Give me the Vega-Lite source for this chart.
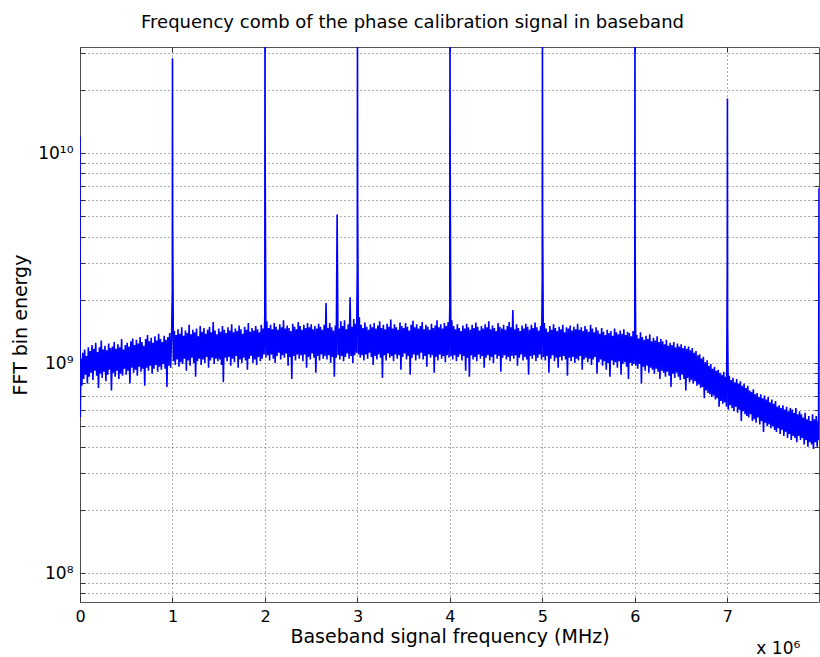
{
"$schema": "https://vega.github.io/schema/vega-lite/v6.json",
"width": 739,
"height": 555,
"autosize": {"type": "none"},
"padding": {"left": 80, "top": 47, "right": 1, "bottom": 55},
"background": "white",
"title": {"text": "Frequency comb of the phase calibration signal in baseband", "font": "DejaVu Sans", "fontSize": 18, "fontWeight": "normal", "color": "black", "offset": 15, "dx": -37},
"config": {
"view": {"stroke": "#555", "strokeWidth": 1},
"axis": {"domain": false, "gridColor": "#333", "gridDash": [1, 3], "gridOpacity": 0.8, "gridWidth": 1, "tickColor": "#333", "tickSize": -5, "labelFont": "DejaVu Sans", "labelFontSize": 16, "labelColor": "black", "labelFlush": false, "titleFont": "DejaVu Sans", "titleFontSize": 19, "titleFontWeight": "normal", "titleColor": "black"}
},
"resolve": {"axis": {"x": "independent", "y": "independent"}},
"layer": [
{
"data": {"values": [
{"f":0,"e":1.2e10},{"f":0.003,"e":5.5e8},{"f":0.01,"e":1.05e9},{"f":0.02,"e":7.8e8},{"f":0.03,"e":1.12e9},{"f":0.04,"e":8.4e8},{"f":0.05,"e":1.16e9},{"f":0.06,"e":8.8e8},{"f":0.07,"e":1.08e9},{"f":0.08,"e":8.0e8},{"f":0.09,"e":1.19e9},
{"f":0.10,"e":8.6e8},{"f":0.11,"e":1.14e9},{"f":0.12,"e":9.0e8},{"f":0.13,"e":1.22e9},{"f":0.14,"e":8.3e8},{"f":0.15,"e":1.17e9},{"f":0.16,"e":9.2e8},{"f":0.17,"e":1.25e9},{"f":0.18,"e":8.7e8},{"f":0.19,"e":1.13e9},
{"f":0.20,"e":7.6e8},{"f":0.21,"e":1.19e9},{"f":0.22,"e":8.9e8},{"f":0.23,"e":1.28e9},{"f":0.24,"e":8.5e8},{"f":0.25,"e":1.16e9},{"f":0.26,"e":9.1e8},{"f":0.27,"e":1.21e9},{"f":0.28,"e":8.2e8},{"f":0.29,"e":1.15e9},
{"f":0.30,"e":8.8e8},{"f":0.31,"e":1.24e9},{"f":0.32,"e":9.3e8},{"f":0.33,"e":1.18e9},{"f":0.34,"e":7.4e8},{"f":0.35,"e":1.2e9},{"f":0.36,"e":9.0e8},{"f":0.37,"e":1.26e9},{"f":0.38,"e":8.6e8},{"f":0.39,"e":1.17e9},
{"f":0.40,"e":9.2e8},{"f":0.41,"e":1.23e9},{"f":0.42,"e":8.4e8},{"f":0.43,"e":1.19e9},{"f":0.44,"e":8.9e8},{"f":0.45,"e":1.3e9},{"f":0.46,"e":8.7e8},{"f":0.47,"e":1.16e9},{"f":0.48,"e":9.4e8},{"f":0.49,"e":1.22e9},
{"f":0.50,"e":8.8e8},{"f":0.51,"e":1.25e9},{"f":0.52,"e":9.2e8},{"f":0.53,"e":1.2e9},{"f":0.54,"e":8.0e8},{"f":0.55,"e":1.27e9},{"f":0.56,"e":9.5e8},{"f":0.57,"e":1.31e9},{"f":0.58,"e":9.0e8},{"f":0.59,"e":1.22e9},
{"f":0.60,"e":9.3e8},{"f":0.61,"e":1.29e9},{"f":0.62,"e":8.7e8},{"f":0.63,"e":1.24e9},{"f":0.64,"e":9.6e8},{"f":0.65,"e":1.33e9},{"f":0.66,"e":9.1e8},{"f":0.67,"e":1.26e9},{"f":0.68,"e":9.4e8},{"f":0.69,"e":1.21e9},
{"f":0.70,"e":7.8e8},{"f":0.71,"e":1.3e9},{"f":0.72,"e":9.5e8},{"f":0.73,"e":1.36e9},{"f":0.74,"e":9.2e8},{"f":0.75,"e":1.27e9},{"f":0.76,"e":9.7e8},{"f":0.77,"e":1.32e9},{"f":0.78,"e":8.9e8},{"f":0.79,"e":1.25e9},
{"f":0.80,"e":9.4e8},{"f":0.81,"e":1.34e9},{"f":0.82,"e":9.8e8},{"f":0.83,"e":1.28e9},{"f":0.84,"e":9.1e8},{"f":0.85,"e":1.38e9},{"f":0.86,"e":9.6e8},{"f":0.87,"e":1.3e9},{"f":0.88,"e":9.3e8},{"f":0.89,"e":1.26e9},
{"f":0.90,"e":9.9e8},{"f":0.91,"e":1.35e9},{"f":0.92,"e":9.4e8},{"f":0.93,"e":1.29e9},{"f":0.94,"e":7.7e8},{"f":0.95,"e":1.33e9},{"f":0.96,"e":9.7e8},{"f":0.97,"e":1.39e9},{"f":0.98,"e":9.5e8},{"f":0.99,"e":1.31e9},
{"f":0.998,"e":2.2e9},{"f":1.0,"e":2.83e10},{"f":1.002,"e":4.6e9},
{"f":1.01,"e":1.02e9},{"f":1.02,"e":1.42e9},{"f":1.03,"e":9.8e8},{"f":1.04,"e":1.36e9},{"f":1.05,"e":1.04e9},{"f":1.06,"e":1.45e9},{"f":1.07,"e":9.6e8},{"f":1.08,"e":1.38e9},{"f":1.09,"e":1.01e9},
{"f":1.10,"e":1.48e9},{"f":1.11,"e":9.9e8},{"f":1.12,"e":1.35e9},{"f":1.13,"e":1.05e9},{"f":1.14,"e":1.43e9},{"f":1.15,"e":9.2e8},{"f":1.16,"e":1.39e9},{"f":1.17,"e":1.03e9},{"f":1.18,"e":1.52e9},{"f":1.19,"e":9.7e8},
{"f":1.20,"e":1.37e9},{"f":1.21,"e":1.06e9},{"f":1.22,"e":1.44e9},{"f":1.23,"e":1.0e9},{"f":1.24,"e":1.4e9},{"f":1.25,"e":8.6e8},{"f":1.26,"e":1.46e9},{"f":1.27,"e":1.02e9},{"f":1.28,"e":1.34e9},{"f":1.29,"e":1.05e9},
{"f":1.30,"e":1.5e9},{"f":1.31,"e":9.8e8},{"f":1.32,"e":1.41e9},{"f":1.33,"e":1.04e9},{"f":1.34,"e":1.47e9},{"f":1.35,"e":1.0e9},{"f":1.36,"e":1.38e9},{"f":1.37,"e":1.07e9},{"f":1.38,"e":1.44e9},{"f":1.39,"e":9.5e8},
{"f":1.40,"e":1.49e9},{"f":1.41,"e":1.03e9},{"f":1.42,"e":1.4e9},{"f":1.43,"e":1.06e9},{"f":1.44,"e":1.57e9},{"f":1.45,"e":9.9e8},{"f":1.46,"e":1.43e9},{"f":1.47,"e":1.05e9},{"f":1.48,"e":1.37e9},{"f":1.49,"e":1.02e9},
{"f":1.50,"e":1.46e9},{"f":1.51,"e":1.04e9},{"f":1.52,"e":1.41e9},{"f":1.53,"e":9.8e8},{"f":1.54,"e":1.5e9},{"f":1.55,"e":8.1e8},{"f":1.56,"e":1.44e9},{"f":1.57,"e":1.06e9},{"f":1.58,"e":1.39e9},{"f":1.59,"e":1.02e9},
{"f":1.60,"e":1.48e9},{"f":1.61,"e":1.07e9},{"f":1.62,"e":1.43e9},{"f":1.63,"e":9.7e8},{"f":1.64,"e":1.53e9},{"f":1.65,"e":1.05e9},{"f":1.66,"e":1.4e9},{"f":1.67,"e":1.01e9},{"f":1.68,"e":1.46e9},{"f":1.69,"e":1.08e9},
{"f":1.70,"e":1.42e9},{"f":1.71,"e":9.5e8},{"f":1.72,"e":1.51e9},{"f":1.73,"e":1.04e9},{"f":1.74,"e":1.45e9},{"f":1.75,"e":1.0e9},{"f":1.76,"e":1.38e9},{"f":1.77,"e":1.06e9},{"f":1.78,"e":1.49e9},{"f":1.79,"e":1.03e9},
{"f":1.80,"e":1.44e9},{"f":1.81,"e":9.3e8},{"f":1.82,"e":1.55e9},{"f":1.83,"e":1.05e9},{"f":1.84,"e":1.41e9},{"f":1.85,"e":1.08e9},{"f":1.86,"e":1.47e9},{"f":1.87,"e":1.0e9},{"f":1.88,"e":1.43e9},{"f":1.89,"e":1.04e9},
{"f":1.90,"e":1.5e9},{"f":1.91,"e":9.8e8},{"f":1.92,"e":1.45e9},{"f":1.93,"e":1.07e9},{"f":1.94,"e":1.4e9},{"f":1.95,"e":1.02e9},{"f":1.96,"e":1.52e9},{"f":1.97,"e":1.05e9},{"f":1.98,"e":1.46e9},{"f":1.99,"e":1.1e9},
{"f":1.998,"e":1.7e9},{"f":2.0,"e":5e10},{"f":2.002,"e":1.01e10},
{"f":2.01,"e":1.06e9},{"f":2.02,"e":1.58e9},{"f":2.03,"e":1.09e9},{"f":2.04,"e":1.47e9},{"f":2.05,"e":1.03e9},{"f":2.06,"e":1.52e9},{"f":2.07,"e":1.1e9},{"f":2.08,"e":1.45e9},{"f":2.09,"e":1.05e9},
{"f":2.10,"e":1.55e9},{"f":2.11,"e":1.0e9},{"f":2.12,"e":1.49e9},{"f":2.13,"e":1.08e9},{"f":2.14,"e":1.44e9},{"f":2.15,"e":1.12e9},{"f":2.16,"e":1.53e9},{"f":2.17,"e":1.04e9},{"f":2.18,"e":1.48e9},{"f":2.19,"e":1.09e9},
{"f":2.20,"e":1.6e9},{"f":2.21,"e":1.06e9},{"f":2.22,"e":1.46e9},{"f":2.23,"e":1.11e9},{"f":2.24,"e":1.51e9},{"f":2.25,"e":9.7e8},{"f":2.26,"e":1.47e9},{"f":2.27,"e":1.07e9},{"f":2.28,"e":1.42e9},{"f":2.29,"e":8.4e8},
{"f":2.30,"e":1.54e9},{"f":2.31,"e":1.08e9},{"f":2.32,"e":1.49e9},{"f":2.33,"e":1.03e9},{"f":2.34,"e":1.45e9},{"f":2.35,"e":1.1e9},{"f":2.36,"e":1.57e9},{"f":2.37,"e":1.05e9},{"f":2.38,"e":1.5e9},{"f":2.39,"e":1.09e9},
{"f":2.40,"e":1.44e9},{"f":2.41,"e":1.02e9},{"f":2.42,"e":1.52e9},{"f":2.43,"e":1.1e9},{"f":2.44,"e":1.47e9},{"f":2.45,"e":9.5e8},{"f":2.46,"e":1.55e9},{"f":2.47,"e":1.07e9},{"f":2.48,"e":1.48e9},{"f":2.49,"e":1.04e9},
{"f":2.50,"e":1.53e9},{"f":2.51,"e":1.11e9},{"f":2.52,"e":1.45e9},{"f":2.53,"e":1.06e9},{"f":2.54,"e":1.5e9},{"f":2.55,"e":9.0e8},{"f":2.56,"e":1.46e9},{"f":2.57,"e":1.08e9},{"f":2.58,"e":1.54e9},{"f":2.59,"e":1.03e9},
{"f":2.60,"e":1.49e9},{"f":2.61,"e":1.1e9},{"f":2.62,"e":1.44e9},{"f":2.63,"e":1.05e9},{"f":2.64,"e":1.52e9},{"f":2.65,"e":1.08e9},{"f":2.66,"e":1.93e9},{"f":2.67,"e":1.04e9},{"f":2.68,"e":1.47e9},{"f":2.69,"e":1.09e9},
{"f":2.70,"e":1.55e9},{"f":2.71,"e":1.0e9},{"f":2.72,"e":1.48e9},{"f":2.73,"e":1.07e9},{"f":2.74,"e":1.43e9},{"f":2.75,"e":8.6e8},{"f":2.76,"e":1.51e9},{"f":2.77,"e":1.06e9},{"f":2.78,"e":5.1e9},{"f":2.79,"e":1.09e9},
{"f":2.80,"e":1.46e9},{"f":2.81,"e":1.04e9},{"f":2.82,"e":1.58e9},{"f":2.83,"e":1.08e9},{"f":2.84,"e":1.5e9},{"f":2.85,"e":1.02e9},{"f":2.86,"e":1.6e9},{"f":2.87,"e":1.07e9},{"f":2.88,"e":1.45e9},{"f":2.89,"e":1.11e9},
{"f":2.90,"e":1.53e9},{"f":2.91,"e":1.05e9},{"f":2.92,"e":2.06e9},{"f":2.93,"e":1.08e9},{"f":2.94,"e":1.49e9},{"f":2.95,"e":1.0e9},{"f":2.96,"e":1.62e9},{"f":2.97,"e":1.09e9},{"f":2.98,"e":1.54e9},{"f":2.99,"e":1.12e9},
{"f":2.998,"e":2.86e9},{"f":3.0,"e":5e10},{"f":3.002,"e":5.78e9},
{"f":3.01,"e":1.1e9},{"f":3.02,"e":1.65e9},{"f":3.03,"e":1.06e9},{"f":3.04,"e":1.52e9},{"f":3.05,"e":1.09e9},{"f":3.06,"e":1.47e9},{"f":3.07,"e":1.03e9},{"f":3.08,"e":1.56e9},{"f":3.09,"e":1.1e9},
{"f":3.10,"e":1.49e9},{"f":3.11,"e":1.05e9},{"f":3.12,"e":1.44e9},{"f":3.13,"e":1.12e9},{"f":3.14,"e":1.53e9},{"f":3.15,"e":1.07e9},{"f":3.16,"e":1.48e9},{"f":3.17,"e":9.8e8},{"f":3.18,"e":1.55e9},{"f":3.19,"e":1.08e9},
{"f":3.20,"e":1.46e9},{"f":3.21,"e":1.04e9},{"f":3.22,"e":1.51e9},{"f":3.23,"e":1.1e9},{"f":3.24,"e":1.58e9},{"f":3.25,"e":1.06e9},{"f":3.26,"e":1.47e9},{"f":3.27,"e":8.5e8},{"f":3.28,"e":1.52e9},{"f":3.29,"e":1.09e9},
{"f":3.30,"e":1.45e9},{"f":3.31,"e":1.03e9},{"f":3.32,"e":1.54e9},{"f":3.33,"e":1.11e9},{"f":3.34,"e":1.49e9},{"f":3.35,"e":1.06e9},{"f":3.36,"e":1.61e9},{"f":3.37,"e":1.08e9},{"f":3.38,"e":1.46e9},{"f":3.39,"e":1.02e9},
{"f":3.40,"e":1.53e9},{"f":3.41,"e":1.1e9},{"f":3.42,"e":1.48e9},{"f":3.43,"e":1.05e9},{"f":3.44,"e":1.44e9},{"f":3.45,"e":1.09e9},{"f":3.46,"e":1.56e9},{"f":3.47,"e":9.3e8},{"f":3.48,"e":1.5e9},{"f":3.49,"e":1.07e9},
{"f":3.50,"e":1.47e9},{"f":3.51,"e":1.11e9},{"f":3.52,"e":1.55e9},{"f":3.53,"e":1.04e9},{"f":3.54,"e":1.49e9},{"f":3.55,"e":1.08e9},{"f":3.56,"e":1.43e9},{"f":3.57,"e":8.8e8},{"f":3.58,"e":1.52e9},{"f":3.59,"e":1.06e9},
{"f":3.60,"e":1.59e9},{"f":3.61,"e":1.1e9},{"f":3.62,"e":1.48e9},{"f":3.63,"e":1.03e9},{"f":3.64,"e":1.53e9},{"f":3.65,"e":1.09e9},{"f":3.66,"e":1.46e9},{"f":3.67,"e":1.05e9},{"f":3.68,"e":1.5e9},{"f":3.69,"e":1.12e9},
{"f":3.70,"e":1.57e9},{"f":3.71,"e":1.04e9},{"f":3.72,"e":1.45e9},{"f":3.73,"e":1.08e9},{"f":3.74,"e":1.52e9},{"f":3.75,"e":9.6e8},{"f":3.76,"e":1.49e9},{"f":3.77,"e":1.1e9},{"f":3.78,"e":1.44e9},{"f":3.79,"e":1.06e9},
{"f":3.80,"e":1.54e9},{"f":3.81,"e":1.09e9},{"f":3.82,"e":1.47e9},{"f":3.83,"e":9.0e8},{"f":3.84,"e":1.51e9},{"f":3.85,"e":1.07e9},{"f":3.86,"e":1.6e9},{"f":3.87,"e":1.03e9},{"f":3.88,"e":1.48e9},{"f":3.89,"e":1.1e9},
{"f":3.90,"e":1.53e9},{"f":3.91,"e":1.05e9},{"f":3.92,"e":1.46e9},{"f":3.93,"e":1.08e9},{"f":3.94,"e":1.55e9},{"f":3.95,"e":1.01e9},{"f":3.96,"e":1.5e9},{"f":3.97,"e":1.09e9},{"f":3.98,"e":1.57e9},{"f":3.99,"e":1.06e9},
{"f":3.998,"e":1.85e9},{"f":4.0,"e":5e10},{"f":4.002,"e":1.0e10},
{"f":4.01,"e":1.08e9},{"f":4.02,"e":1.6e9},{"f":4.03,"e":1.04e9},{"f":4.04,"e":1.5e9},{"f":4.05,"e":1.09e9},{"f":4.06,"e":1.45e9},{"f":4.07,"e":1.02e9},{"f":4.08,"e":1.53e9},{"f":4.09,"e":1.07e9},
{"f":4.10,"e":1.47e9},{"f":4.11,"e":1.1e9},{"f":4.12,"e":1.42e9},{"f":4.13,"e":1.03e9},{"f":4.14,"e":1.51e9},{"f":4.15,"e":1.08e9},{"f":4.16,"e":1.46e9},{"f":4.17,"e":9.2e8},{"f":4.18,"e":1.54e9},{"f":4.19,"e":1.06e9},
{"f":4.20,"e":1.48e9},{"f":4.21,"e":8.6e8},{"f":4.22,"e":1.44e9},{"f":4.23,"e":1.09e9},{"f":4.24,"e":1.52e9},{"f":4.25,"e":1.04e9},{"f":4.26,"e":1.47e9},{"f":4.27,"e":1.07e9},{"f":4.28,"e":1.56e9},{"f":4.29,"e":1.02e9},
{"f":4.30,"e":1.49e9},{"f":4.31,"e":1.1e9},{"f":4.32,"e":1.43e9},{"f":4.33,"e":1.05e9},{"f":4.34,"e":1.5e9},{"f":4.35,"e":1.08e9},{"f":4.36,"e":1.46e9},{"f":4.37,"e":9.5e8},{"f":4.38,"e":1.53e9},{"f":4.39,"e":1.06e9},
{"f":4.40,"e":1.48e9},{"f":4.41,"e":1.09e9},{"f":4.42,"e":1.58e9},{"f":4.43,"e":1.03e9},{"f":4.44,"e":1.45e9},{"f":4.45,"e":1.07e9},{"f":4.46,"e":1.51e9},{"f":4.47,"e":1.0e9},{"f":4.48,"e":1.47e9},{"f":4.49,"e":1.1e9},
{"f":4.50,"e":1.42e9},{"f":4.51,"e":1.05e9},{"f":4.52,"e":1.55e9},{"f":4.53,"e":1.08e9},{"f":4.54,"e":1.49e9},{"f":4.55,"e":9.1e8},{"f":4.56,"e":1.46e9},{"f":4.57,"e":1.06e9},{"f":4.58,"e":1.52e9},{"f":4.59,"e":1.09e9},
{"f":4.60,"e":1.44e9},{"f":4.61,"e":1.04e9},{"f":4.62,"e":1.5e9},{"f":4.63,"e":1.07e9},{"f":4.64,"e":1.57e9},{"f":4.65,"e":1.02e9},{"f":4.66,"e":1.48e9},{"f":4.67,"e":1.08e9},{"f":4.68,"e":1.79e9},{"f":4.69,"e":1.05e9},
{"f":4.70,"e":1.45e9},{"f":4.71,"e":1.09e9},{"f":4.72,"e":1.53e9},{"f":4.73,"e":9.7e8},{"f":4.74,"e":1.47e9},{"f":4.75,"e":1.06e9},{"f":4.76,"e":1.42e9},{"f":4.77,"e":1.1e9},{"f":4.78,"e":1.51e9},{"f":4.79,"e":1.03e9},
{"f":4.80,"e":1.46e9},{"f":4.81,"e":1.07e9},{"f":4.82,"e":1.54e9},{"f":4.83,"e":1.04e9},{"f":4.84,"e":1.49e9},{"f":4.85,"e":8.8e8},{"f":4.86,"e":1.44e9},{"f":4.87,"e":1.08e9},{"f":4.88,"e":1.52e9},{"f":4.89,"e":1.05e9},
{"f":4.90,"e":1.47e9},{"f":4.91,"e":1.09e9},{"f":4.92,"e":1.56e9},{"f":4.93,"e":1.02e9},{"f":4.94,"e":1.48e9},{"f":4.95,"e":1.06e9},{"f":4.96,"e":1.43e9},{"f":4.97,"e":1.1e9},{"f":4.98,"e":1.5e9},{"f":4.99,"e":1.04e9},
{"f":4.998,"e":2.54e9},{"f":5.0,"e":5e10},{"f":5.002,"e":4.8e9},
{"f":5.01,"e":1.07e9},{"f":5.02,"e":1.55e9},{"f":5.03,"e":1.03e9},{"f":5.04,"e":1.46e9},{"f":5.05,"e":1.08e9},{"f":5.06,"e":1.41e9},{"f":5.07,"e":9.0e8},{"f":5.08,"e":1.5e9},{"f":5.09,"e":1.05e9},
{"f":5.10,"e":1.44e9},{"f":5.11,"e":1.09e9},{"f":5.12,"e":1.53e9},{"f":5.13,"e":1.02e9},{"f":5.14,"e":1.47e9},{"f":5.15,"e":1.06e9},{"f":5.16,"e":1.42e9},{"f":5.17,"e":9.5e8},{"f":5.18,"e":1.49e9},{"f":5.19,"e":1.07e9},
{"f":5.20,"e":1.45e9},{"f":5.21,"e":1.03e9},{"f":5.22,"e":1.52e9},{"f":5.23,"e":1.08e9},{"f":5.24,"e":1.4e9},{"f":5.25,"e":1.04e9},{"f":5.26,"e":1.48e9},{"f":5.27,"e":8.7e8},{"f":5.28,"e":1.46e9},{"f":5.29,"e":1.06e9},
{"f":5.30,"e":1.51e9},{"f":5.31,"e":1.02e9},{"f":5.32,"e":1.43e9},{"f":5.33,"e":1.07e9},{"f":5.34,"e":1.49e9},{"f":5.35,"e":1.0e9},{"f":5.36,"e":1.45e9},{"f":5.37,"e":1.05e9},{"f":5.38,"e":1.54e9},{"f":5.39,"e":1.03e9},
{"f":5.40,"e":1.44e9},{"f":5.41,"e":1.08e9},{"f":5.42,"e":1.48e9},{"f":5.43,"e":9.3e8},{"f":5.44,"e":1.42e9},{"f":5.45,"e":1.04e9},{"f":5.46,"e":1.5e9},{"f":5.47,"e":1.06e9},{"f":5.48,"e":1.45e9},{"f":5.49,"e":1.01e9},
{"f":5.50,"e":1.41e9},{"f":5.51,"e":1.05e9},{"f":5.52,"e":1.52e9},{"f":5.53,"e":9.8e8},{"f":5.54,"e":1.46e9},{"f":5.55,"e":1.04e9},{"f":5.56,"e":1.4e9},{"f":5.57,"e":1.07e9},{"f":5.58,"e":1.48e9},{"f":5.59,"e":8.9e8},
{"f":5.60,"e":1.43e9},{"f":5.61,"e":1.01e9},{"f":5.62,"e":1.38e9},{"f":5.63,"e":1.04e9},{"f":5.64,"e":1.47e9},{"f":5.65,"e":9.7e8},{"f":5.66,"e":1.41e9},{"f":5.67,"e":1.02e9},{"f":5.68,"e":1.36e9},{"f":5.69,"e":9.3e8},
{"f":5.70,"e":1.44e9},{"f":5.71,"e":1.0e9},{"f":5.72,"e":1.39e9},{"f":5.73,"e":8.6e8},{"f":5.74,"e":1.42e9},{"f":5.75,"e":1.03e9},{"f":5.76,"e":1.35e9},{"f":5.77,"e":9.8e8},{"f":5.78,"e":1.46e9},{"f":5.79,"e":1.01e9},
{"f":5.80,"e":1.4e9},{"f":5.81,"e":9.5e8},{"f":5.82,"e":1.37e9},{"f":5.83,"e":1.02e9},{"f":5.84,"e":1.43e9},{"f":5.85,"e":8.8e8},{"f":5.86,"e":1.38e9},{"f":5.87,"e":9.9e8},{"f":5.88,"e":1.45e9},{"f":5.89,"e":1.01e9},
{"f":5.90,"e":1.36e9},{"f":5.91,"e":9.6e8},{"f":5.92,"e":1.41e9},{"f":5.93,"e":8.4e8},{"f":5.94,"e":1.39e9},{"f":5.95,"e":1.0e9},{"f":5.96,"e":1.34e9},{"f":5.97,"e":9.7e8},{"f":5.98,"e":1.42e9},{"f":5.99,"e":9.9e8},
{"f":5.998,"e":1.3e9},{"f":6.0,"e":5e10},{"f":6.002,"e":3.45e9},
{"f":6.01,"e":9.7e8},{"f":6.02,"e":1.36e9},{"f":6.03,"e":9.4e8},{"f":6.04,"e":1.31e9},{"f":6.05,"e":9.9e8},{"f":6.06,"e":1.4e9},{"f":6.07,"e":8.0e8},{"f":6.08,"e":1.33e9},{"f":6.09,"e":9.6e8},
{"f":6.10,"e":1.29e9},{"f":6.11,"e":9.2e8},{"f":6.12,"e":1.35e9},{"f":6.13,"e":9.7e8},{"f":6.14,"e":1.3e9},{"f":6.15,"e":9.0e8},{"f":6.16,"e":1.37e9},{"f":6.17,"e":9.5e8},{"f":6.18,"e":1.27e9},{"f":6.19,"e":9.3e8},
{"f":6.20,"e":1.32e9},{"f":6.21,"e":8.9e8},{"f":6.22,"e":1.28e9},{"f":6.23,"e":9.4e8},{"f":6.24,"e":1.34e9},{"f":6.25,"e":9.1e8},{"f":6.26,"e":1.26e9},{"f":6.27,"e":8.4e8},{"f":6.28,"e":1.3e9},{"f":6.29,"e":9.2e8},
{"f":6.30,"e":1.27e9},{"f":6.31,"e":9.0e8},{"f":6.32,"e":1.23e9},{"f":6.33,"e":8.6e8},{"f":6.34,"e":1.29e9},{"f":6.35,"e":9.1e8},{"f":6.36,"e":1.21e9},{"f":6.37,"e":8.7e8},{"f":6.38,"e":1.25e9},{"f":6.39,"e":7.7e8},
{"f":6.40,"e":1.22e9},{"f":6.41,"e":8.9e8},{"f":6.42,"e":1.26e9},{"f":6.43,"e":8.5e8},{"f":6.44,"e":1.19e9},{"f":6.45,"e":9.0e8},{"f":6.46,"e":1.24e9},{"f":6.47,"e":8.6e8},{"f":6.48,"e":1.2e9},{"f":6.49,"e":8.3e8},
{"f":6.50,"e":1.23e9},{"f":6.51,"e":8.8e8},{"f":6.52,"e":1.18e9},{"f":6.53,"e":8.4e8},{"f":6.54,"e":1.21e9},{"f":6.55,"e":7.4e8},{"f":6.56,"e":1.17e9},{"f":6.57,"e":8.5e8},{"f":6.58,"e":1.2e9},{"f":6.59,"e":8.1e8},
{"f":6.60,"e":1.15e9},{"f":6.61,"e":8.3e8},{"f":6.62,"e":1.18e9},{"f":6.63,"e":8.0e8},{"f":6.64,"e":1.12e9},{"f":6.65,"e":8.2e8},{"f":6.66,"e":1.14e9},{"f":6.67,"e":7.8e8},{"f":6.68,"e":1.09e9},{"f":6.69,"e":7.9e8},
{"f":6.70,"e":1.1e9},{"f":6.71,"e":7.6e8},{"f":6.72,"e":1.05e9},{"f":6.73,"e":7.7e8},{"f":6.74,"e":1.07e9},{"f":6.75,"e":6.8e8},{"f":6.76,"e":1.01e9},{"f":6.77,"e":7.4e8},{"f":6.78,"e":1.03e9},{"f":6.79,"e":7.2e8},
{"f":6.80,"e":9.7e8},{"f":6.81,"e":7.1e8},{"f":6.82,"e":9.9e8},{"f":6.83,"e":6.9e8},{"f":6.84,"e":9.4e8},{"f":6.85,"e":7.0e8},{"f":6.86,"e":9.6e8},{"f":6.87,"e":6.7e8},{"f":6.88,"e":9.2e8},{"f":6.89,"e":6.8e8},
{"f":6.90,"e":9.3e8},{"f":6.91,"e":6.2e8},{"f":6.92,"e":9.0e8},{"f":6.93,"e":6.6e8},{"f":6.94,"e":8.8e8},{"f":6.95,"e":6.4e8},{"f":6.96,"e":9.1e8},{"f":6.97,"e":6.5e8},{"f":6.98,"e":8.6e8},{"f":6.99,"e":6.2e8},
{"f":6.995,"e":1.57e9},{"f":6.998,"e":3.0e9},{"f":7.0,"e":1.82e10},{"f":7.002,"e":1.5e9},
{"f":7.01,"e":6.0e8},{"f":7.02,"e":8.7e8},{"f":7.03,"e":6.3e8},{"f":7.04,"e":8.3e8},{"f":7.05,"e":6.1e8},{"f":7.06,"e":8.5e8},{"f":7.07,"e":5.9e8},{"f":7.08,"e":8.1e8},{"f":7.09,"e":6.2e8},
{"f":7.10,"e":8.4e8},{"f":7.11,"e":5.8e8},{"f":7.12,"e":8.0e8},{"f":7.13,"e":6.0e8},{"f":7.14,"e":8.2e8},{"f":7.15,"e":5.3e8},{"f":7.16,"e":7.8e8},{"f":7.17,"e":5.9e8},{"f":7.18,"e":8.0e8},{"f":7.19,"e":5.7e8},
{"f":7.20,"e":7.6e8},{"f":7.21,"e":5.6e8},{"f":7.22,"e":7.8e8},{"f":7.23,"e":5.5e8},{"f":7.24,"e":7.4e8},{"f":7.25,"e":5.7e8},{"f":7.26,"e":7.3e8},{"f":7.27,"e":5.3e8},{"f":7.28,"e":7.5e8},{"f":7.29,"e":5.4e8},
{"f":7.30,"e":7.1e8},{"f":7.31,"e":5.2e8},{"f":7.32,"e":7.2e8},{"f":7.33,"e":5.5e8},{"f":7.34,"e":6.9e8},{"f":7.35,"e":5.1e8},{"f":7.36,"e":7.1e8},{"f":7.37,"e":5.3e8},{"f":7.38,"e":6.8e8},{"f":7.39,"e":4.7e8},
{"f":7.40,"e":7.0e8},{"f":7.41,"e":5.2e8},{"f":7.42,"e":6.7e8},{"f":7.43,"e":5.0e8},{"f":7.44,"e":6.9e8},{"f":7.45,"e":5.1e8},{"f":7.46,"e":6.5e8},{"f":7.47,"e":4.9e8},{"f":7.48,"e":6.7e8},{"f":7.49,"e":5.0e8},
{"f":7.50,"e":6.4e8},{"f":7.51,"e":4.8e8},{"f":7.52,"e":6.6e8},{"f":7.53,"e":4.7e8},{"f":7.54,"e":6.2e8},{"f":7.55,"e":4.9e8},{"f":7.56,"e":6.3e8},{"f":7.57,"e":4.6e8},{"f":7.58,"e":6.1e8},{"f":7.59,"e":4.8e8},
{"f":7.60,"e":6.3e8},{"f":7.61,"e":4.5e8},{"f":7.62,"e":6.0e8},{"f":7.63,"e":4.7e8},{"f":7.64,"e":6.2e8},{"f":7.65,"e":4.4e8},{"f":7.66,"e":5.9e8},{"f":7.67,"e":4.6e8},{"f":7.68,"e":6.1e8},{"f":7.69,"e":4.3e8},
{"f":7.70,"e":6.0e8},{"f":7.71,"e":4.5e8},{"f":7.72,"e":5.8e8},{"f":7.73,"e":4.4e8},{"f":7.74,"e":6.1e8},{"f":7.75,"e":4.2e8},{"f":7.76,"e":5.7e8},{"f":7.77,"e":4.5e8},{"f":7.78,"e":5.9e8},{"f":7.79,"e":4.3e8},
{"f":7.80,"e":5.7e8},{"f":7.81,"e":4.4e8},{"f":7.82,"e":5.5e8},{"f":7.83,"e":4.1e8},{"f":7.84,"e":5.8e8},{"f":7.85,"e":4.3e8},{"f":7.86,"e":5.4e8},{"f":7.87,"e":4.0e8},{"f":7.88,"e":5.6e8},{"f":7.89,"e":4.2e8},
{"f":7.90,"e":5.3e8},{"f":7.91,"e":4.1e8},{"f":7.92,"e":5.7e8},{"f":7.93,"e":3.9e8},{"f":7.94,"e":5.4e8},{"f":7.95,"e":4.2e8},{"f":7.96,"e":5.6e8},{"f":7.97,"e":4.0e8},{"f":7.98,"e":5.3e8},{"f":7.985,"e":4.3e8},{"f":7.99,"e":6.8e9}
]},
"mark": {"type": "line", "color": "#0000ff", "strokeWidth": 1.6, "clip": true, "interpolate": "linear"},
"encoding": {
"x": {"field": "f", "type": "quantitative", "scale": {"domain": [0, 7.99], "nice": false, "zero": false},
"axis": {"orient": "bottom", "values": [0,1,2,3,4,5,6,7], "format": "d", "labelPadding": 11, "title": "Baseband signal frequency (MHz)", "titlePadding": 3, "grid": true}},
"y": {"field": "e", "type": "quantitative", "scale": {"type": "log", "domain": [7.28e7, 3.2e10], "nice": false},
"axis": {"orient": "left", "values": [8e7,9e7,1e8,2e8,3e8,4e8,5e8,6e8,7e8,8e8,9e8,1e9,2e9,3e9,4e9,5e9,6e9,7e9,8e9,9e9,1e10,2e10,3e10],
"labelExpr": "datum.value == 1e8 ? '10⁸' : datum.value == 1e9 ? '10⁹' : datum.value == 1e10 ? '10¹⁰' : ''", "labelFontSize": 17, "labelPadding": 12, "title": "FFT bin energy", "titlePadding": 7, "grid": true}}
}
},
{
"data": {"values": [{}]},
"mark": {"type": "text", "font": "DejaVu Sans", "fontSize": 17, "color": "black", "align": "center", "baseline": "middle"},
"encoding": {
"x": {"datum": 7.55, "type": "quantitative", "scale": {"domain": [0, 7.99], "nice": false, "zero": false},
"axis": {"orient": "top", "values": [0,1,2,3,4,5,6,7], "labels": false, "title": null, "grid": false}},
"y": {"datum": 4.35e7, "type": "quantitative", "scale": {"type": "log", "domain": [7.28e7, 3.2e10], "nice": false},
"axis": {"orient": "right", "values": [8e7,9e7,1e8,2e8,3e8,4e8,5e8,6e8,7e8,8e8,9e8,1e9,2e9,3e9,4e9,5e9,6e9,7e9,8e9,9e9,1e10,2e10,3e10], "labels": false, "title": null, "grid": false}},
"text": {"value": "x 10⁶"}
}
}
]
}
